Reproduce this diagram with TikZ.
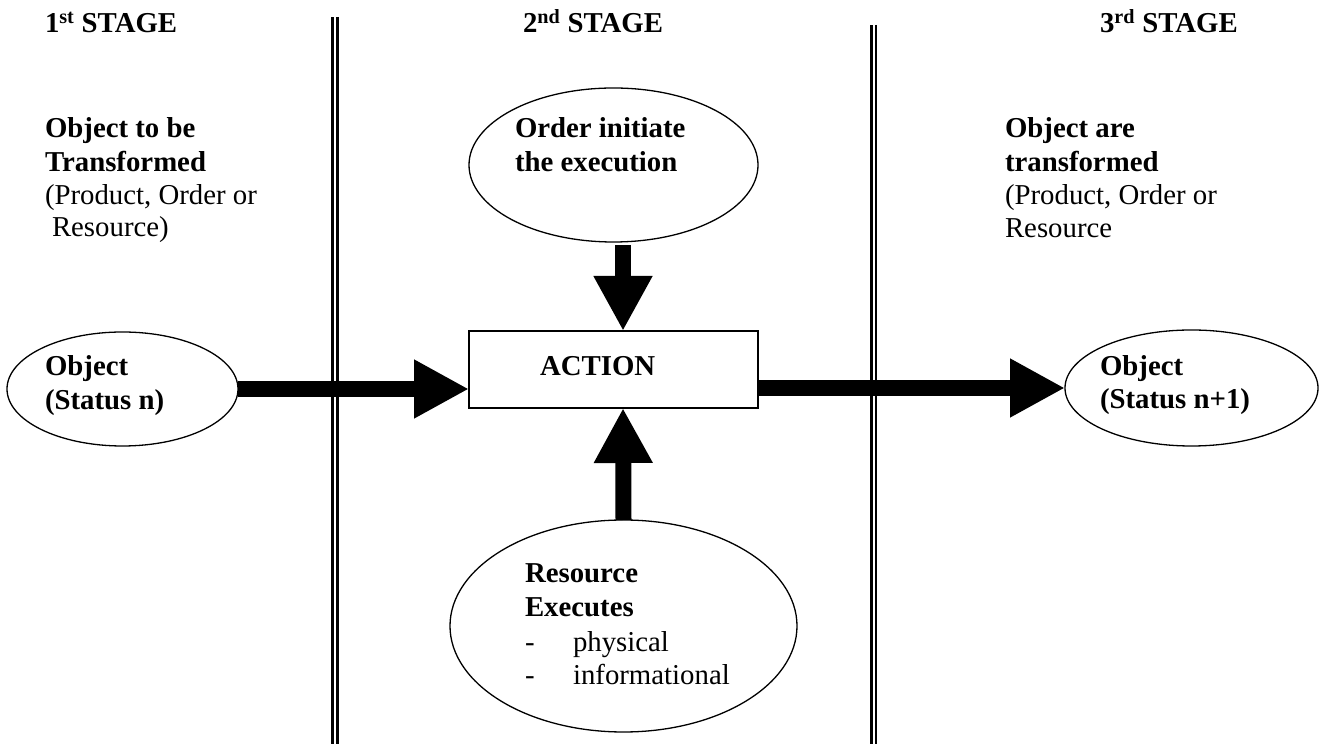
\documentclass[tikz,border=0pt]{standalone}
\usepackage{fontspec}
\setmainfont{Liberation Serif}
\usetikzlibrary{arrows.meta,shapes.geometric}
\begin{document}
\begin{tikzpicture}[x=1pt,y=1pt,
  txt/.style={anchor=base west,inner sep=0pt,outer sep=0pt,font=\fontsize{28.8}{33}\selectfont},
  btxt/.style={anchor=base west,inner sep=0pt,outer sep=0pt,font=\fontsize{28.8}{33}\selectfont\bfseries},
  oval/.style={draw,ellipse,line width=1.3pt,inner sep=0pt,outer sep=0pt},
  actbox/.style={draw,rectangle,line width=1.5pt,inner sep=0pt,outer sep=0pt,minimum width=289pt,minimum height=77pt},
  bigarrow/.style={line width=16pt,-{Triangle[length=55pt,width=55pt]}},
  stageline/.style={double,double distance=2pt,line width=2.6pt}]
\useasboundingbox (0,0) rectangle (1320,744);

% stage separators
\coordinate (l1top) at (335,727);
\coordinate (l1bot) at (335,0);
\coordinate (l2top) at (873.5,719);
\coordinate (l2bot) at (873.5,0);
\draw[stageline] (l1top) -- (l1bot);
\draw[stageline] (l2top) -- (l2bot);

% stage titles
\node[btxt] (st1) at (45,711) {1\textsuperscript{st} STAGE};
\node[btxt] (st2) at (523,711) {2\textsuperscript{nd} STAGE};
\node[btxt] (st3) at (1100,711) {3\textsuperscript{rd} STAGE};

% left text block
\node[btxt] (la) at (45,606) {Object to be};
\node[btxt] (lb) at (45,572) {Transformed};
\node[txt] (lc) at (45,539) {(Product, Order or};
\node[txt] (ld) at (52,507) {Resource)};

% right text block
\node[btxt] (ra) at (1005,606) {Object are};
\node[btxt] (rb) at (1005,572) {transformed};
\node[txt] (rc) at (1005,539) {(Product, Order or};
\node[txt] (rd) at (1005,506) {Resource};

% shapes
\node[oval,minimum width=231pt,minimum height=114pt] (objn) at (122.5,355) {};
\node[oval,minimum width=253pt,minimum height=116pt] (objn1) at (1191.5,356) {};
\node[oval,minimum width=289pt,minimum height=154pt] (ordr) at (613.5,579) {};
\node[oval,minimum width=347pt,minimum height=212pt] (res) at (623.5,118) {};
\node[actbox] (act) at (613.5,374.5) {};

% texts in shapes
\node[btxt] (ordra) at (515,606) {Order initiate};
\node[btxt] (ordrb) at (515,572) {the execution};
\node[btxt] (acttxt) at (540,368) {ACTION};
\node[btxt] (objna) at (45,368) {Object};
\node[btxt] (objnb) at (45,334) {(Status n)};
\node[btxt] (objn1a) at (1100,368) {Object};
\node[btxt] (objn1b) at (1100,335) {(Status n+1)};
\node[btxt] (resa) at (525,161) {Resource};
\node[btxt] (resb) at (525,127) {Executes};
\node[txt] (resc1) at (525,92) {-};
\node[txt] (resc2) at (573,92) {physical};
\node[txt] (resd1) at (525,59) {-};
\node[txt] (resd2) at (573,59) {informational};

% arrows
\draw[bigarrow] (objn.east) -- (objn.east -| act.west);
\draw[bigarrow] (objn1.west -| act.east) -- (objn1.west);
\draw[bigarrow] ([xshift=9.5pt,yshift=-3pt]ordr.south) -- ([xshift=9.5pt]act.north);
\draw[bigarrow] (res.north) -- ([xshift=9.5pt]act.south);
\end{tikzpicture}
\end{document}
